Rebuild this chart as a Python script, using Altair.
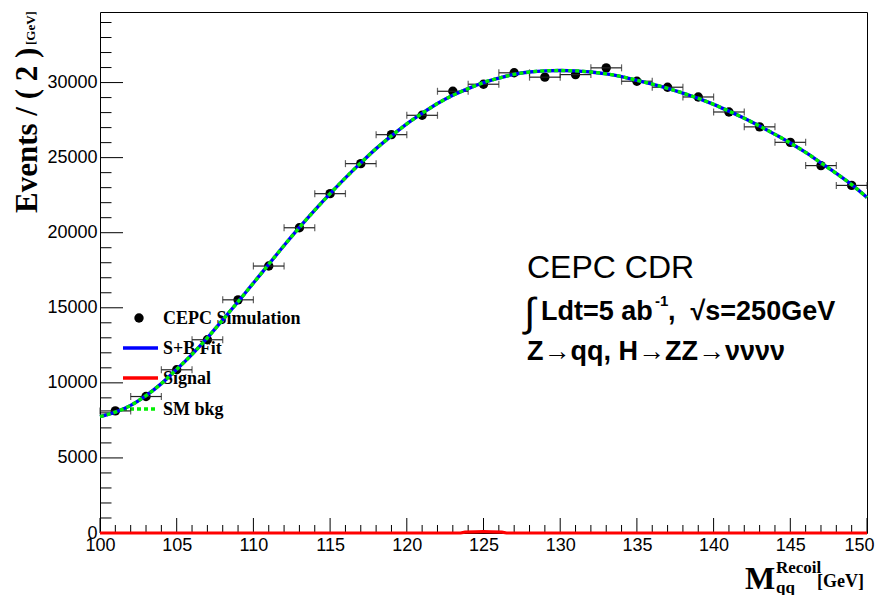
import altair as alt
import pandas as pd

# ---------------- data ----------------
bin_centers = [101, 103, 105, 107, 109, 111, 113, 115, 117, 119, 121, 123, 125,
               127, 129, 131, 133, 135, 137, 139, 141, 143, 145, 147, 149]
events = [8130, 9090, 10870, 12870, 15530, 17780, 20330, 22600, 24600, 26530,
          27820, 29420, 29890, 30650, 30360, 30530, 30980, 30090, 29690, 29040,
          28040, 27050, 26020, 24470, 23150]
bin_halfwidth = 1.0

fit_x = list(range(100, 151))
fit_y = [7750, 8050, 8500, 9150, 9950, 10900, 11900, 13000, 14200, 15400,
         16650, 17900, 19150, 20350, 21500, 22600, 23650, 24650, 25600, 26450,
         27250, 27950, 28600, 29150, 29600, 30000, 30300, 30550, 30700, 30780,
         30800, 30780, 30700, 30580, 30400, 30150, 29900, 29620, 29300, 28950,
         28550, 28100, 27620, 27100, 26550, 25980, 25350, 24650, 23950, 23200,
         22350]

sig_x = [100, 123.5, 123.8, 124.5, 125, 125.5, 126.2, 126.5, 150]
sig_y = [0, 0, 60, 80, 85, 80, 60, 0, 0]

x_major = [100, 105, 110, 115, 120, 125, 130, 135, 140, 145, 150]
x_minor = [v for v in range(100, 151) if v % 5 != 0]
y_major = [0, 5000, 10000, 15000, 20000, 25000, 30000]
y_minor = [v for v in range(1000, 34001, 1000) if v % 5000 != 0]

X_MIN, X_MAX = 100, 150
Y_MIN, Y_MAX = 0, 34700

W, H = 767, 521

SANS = "Liberation Sans"
SERIF = "Liberation Serif"
NB = "\u00a0"

last_test = f"datum.value == {X_MAX}"
xs = alt.Scale(domain=[X_MIN, X_MAX], nice=False, zero=False)
ys = alt.Scale(domain=[Y_MIN, Y_MAX], nice=False, zero=False)
ax_x = alt.Axis(values=x_major, title=None, ticks=False, domain=False,
                grid=False, labelFont=SANS, labelFontSize=18,
                labelColor="black", labelPadding=3, labelFlush=False,
                labelAlign={"condition": {"test": last_test, "value": "right"},
                            "value": "center"},
                labelOffset={"condition": {"test": last_test, "value": 7},
                             "value": 0})
ax_y = alt.Axis(values=y_major, title=None, ticks=False, domain=False,
                grid=False, labelFont=SANS, labelFontSize=18,
                labelColor="black", labelPadding=3, format="d",
                labelFlush=False)


def X(field):
    return alt.X(field, scale=xs, axis=ax_x)


def Y(field):
    return alt.Y(field, scale=ys, axis=ax_y)


df_pts = pd.DataFrame({"m": bin_centers, "events": events})
df_fit = pd.DataFrame({"m": fit_x, "y": fit_y})
df_sig = pd.DataFrame({"m": sig_x, "y": sig_y})
one = pd.DataFrame({"a": [0]})

# ---------------- layers ----------------
points = alt.Chart(df_pts).mark_circle(size=88, color="black", opacity=1).encode(
    x=X("m:Q"), y=Y("events:Q"))

err_base = alt.Chart(df_pts).transform_calculate(
    lo=f"datum.m - {bin_halfwidth}", hi=f"datum.m + {bin_halfwidth}")
err_h = err_base.mark_rule(color="#222222", strokeWidth=1.2).encode(
    x=X("lo:Q"), x2="hi:Q", y=Y("events:Q"))
cap_lo = err_base.mark_tick(orient="vertical", size=7, thickness=1.2,
                            color="#222222").encode(x=X("lo:Q"), y=Y("events:Q"))
cap_hi = err_base.mark_tick(orient="vertical", size=7, thickness=1.2,
                            color="#222222").encode(x=X("hi:Q"), y=Y("events:Q"))

fit_line = alt.Chart(df_fit).mark_line(color="#0000ff", strokeWidth=3.4,
                                       interpolate="monotone").encode(
    x=X("m:Q"), y=Y("y:Q"))
bkg_line = alt.Chart(df_fit).mark_line(color="#00f000", strokeWidth=3.4,
                                       strokeDash=[4, 3],
                                       interpolate="monotone").encode(
    x=X("m:Q"), y=Y("y:Q"))
sig_line = alt.Chart(df_sig).mark_line(color="#ff0000", strokeWidth=3.2).encode(
    x=X("m:Q"), y=Y("y:Q"))

# inward ticks
df_xmaj = pd.DataFrame({"v": x_major})
df_xmin = pd.DataFrame({"v": x_minor})
df_ymaj = pd.DataFrame({"v": y_major})
df_ymin = pd.DataFrame({"v": y_minor})
tx_maj = alt.Chart(df_xmaj).mark_rule(color="black", strokeWidth=1).encode(
    x=X("v:Q"), y=alt.value(H), y2=alt.value(H - 15))
tx_min = alt.Chart(df_xmin).mark_rule(color="black", strokeWidth=1).encode(
    x=X("v:Q"), y=alt.value(H), y2=alt.value(H - 8))
ty_maj = alt.Chart(df_ymaj).mark_rule(color="black", strokeWidth=1).encode(
    y=Y("v:Q"), x=alt.value(0), x2=alt.value(23))
ty_min = alt.Chart(df_ymin).mark_rule(color="black", strokeWidth=1).encode(
    y=Y("v:Q"), x=alt.value(0), x2=alt.value(11.5))


def label(text, x, y, size, font=SANS, weight="normal", angle=0,
          baseline="alphabetic", align="left"):
    kw = dict(text=text, font=font, fontSize=size, fontWeight=weight,
              align=align, baseline=baseline, color="black")
    if angle:
        kw["angle"] = angle
    return alt.Chart(one).mark_text(**kw).encode(x=alt.value(x), y=alt.value(y))


# legend (drawn under the curves)
leg_marker = alt.Chart(one).mark_circle(size=88, color="black", opacity=1).encode(
    x=alt.value(39), y=alt.value(306))
leg_blue = alt.Chart(one).mark_rule(color="#0000ff", strokeWidth=3.4).encode(
    x=alt.value(23), x2=alt.value(58), y=alt.value(336))
leg_red = alt.Chart(one).mark_rule(color="#ff0000", strokeWidth=3.4).encode(
    x=alt.value(23), x2=alt.value(58), y=alt.value(366))
leg_green = alt.Chart(one).mark_rule(color="#00f000", strokeWidth=3.4,
                                     strokeDash=[4, 3]).encode(
    x=alt.value(23), x2=alt.value(58), y=alt.value(397))
leg_texts = [
    label("CEPC Simulation", 63, 312, 18, SERIF, "bold"),
    label("S+B Fit", 63, 342, 18, SERIF, "bold"),
    label("Signal", 63, 372, 18, SERIF, "bold"),
    label("SM bkg", 63, 403, 18, SERIF, "bold"),
]

# annotation block
annot = [
    label("CEPC CDR", 427, 266, 32),
    label("∫", 424, 314, 40),
    label("Ldt=5 ab", 441, 308, 27, SANS, "bold"),
    label("-1", 555, 294, 15, SANS, "bold"),
    label("," + NB + NB + "√s=250GeV", 568, 308, 27, SANS, "bold"),
    label("Z→qq, H→ZZ→νννν", 427, 348, 27, SANS, "bold"),
]

# axis titles
titles = [
    label("Events / ( 2 )", -63, 201, 31, SERIF, "bold", angle=270),
    label("[GeV]", -65, 33, 13, SERIF, "bold", angle=270),
    label("M", 645, 577, 32, SERIF, "bold"),
    label("Recoil", 676, 561, 17, SERIF, "bold"),
    label("qq", 676, 581, 17, SERIF, "bold"),
    label("[GeV]", 717, 575, 18, SERIF, "bold"),
]

chart = alt.layer(
    points,
    *leg_texts, leg_marker, leg_blue, leg_red, leg_green,
    err_h, cap_lo, cap_hi,
    tx_maj, tx_min, ty_maj, ty_min,
    fit_line, bkg_line, sig_line,
    *annot, *titles,
).properties(
    width=W, height=H,
    autosize=alt.AutoSizeParams(type="none"),
    padding={"left": 92, "top": 4, "right": 8, "bottom": 62},
    background="white",
).configure_view(stroke="black", strokeWidth=1)

chart.save("out.html", embed_options={"renderer": "svg", "actions": False})
